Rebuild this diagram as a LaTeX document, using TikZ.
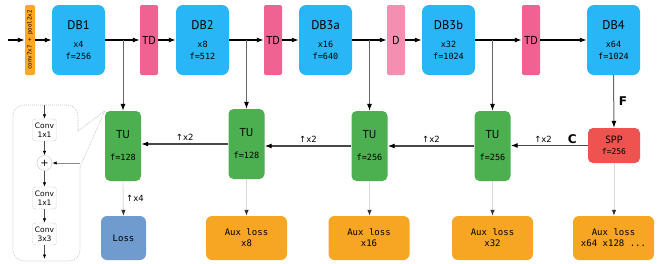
\documentclass[tikz,border=0pt]{standalone}
\usepackage{fontspec}
\setmainfont{PT Sans}
\newfontfamily\monof{DejaVu Sans Mono}
\newfontfamily\symf{DejaVu Sans}
\usetikzlibrary{arrows.meta}
\definecolor{dbblue}{HTML}{29B6F6}
\definecolor{tdpink}{HTML}{F06292}
\definecolor{dpink}{HTML}{F48FB1}
\definecolor{tugreen}{HTML}{4CAF50}
\definecolor{sppred}{HTML}{EF5350}
\definecolor{auxorange}{HTML}{F6A623}
\definecolor{lossblue}{HTML}{6F9BCF}
\definecolor{convorange}{HTML}{FFA726}
\definecolor{outline}{HTML}{B8C4D0}
\newcommand\mytitle{\rmfamily\fontsize{12.5}{14}\selectfont}
\newcommand\mytu{\rmfamily\fontsize{11.5}{13}\selectfont}
\newcommand\mydet{\monof\fontsize{8.5}{12}\selectfont}
\tikzset{
  db/.style={fill=dbblue, rounded corners=7pt, minimum width=53pt, minimum height=70pt, inner sep=0pt, align=center, font=\mydet},
  tdbox/.style={fill=tdpink, rounded corners=2pt, minimum width=18pt, minimum height=70pt, inner sep=0pt, font=\rmfamily\fontsize{11.5}{13}\selectfont},
  tu/.style={fill=tugreen, rounded corners=5pt, minimum width=36pt, minimum height=70pt, inner sep=0pt, align=center, font=\mydet},
  aux/.style={fill=auxorange, rounded corners=6pt, minimum width=81pt, minimum height=44pt, inner sep=0pt, align=center, font=\monof\fontsize{9}{11}\selectfont},
  convbox/.style={fill=white, draw=gray!35, rounded corners=3pt, minimum width=24pt, minimum height=22pt, inner sep=1pt, align=center, font=\symf\fontsize{7.5}{9}\selectfont},
  main/.style={draw=black, line width=1.1pt, -{Latex[length=7pt,width=5pt]}},
  back/.style={draw=black!72, line width=1.1pt, -{Latex[length=7pt,width=5pt,color=black]}},
  branch/.style={draw=black!60, line width=1pt, -{Latex[length=7pt,width=5pt,color=black]}},
  faint/.style={draw=black!15, line width=0.8pt, -{Latex[length=6pt,width=4.5pt,color=black!80]}},
  small/.style={draw=black!70, line width=0.8pt, -{Latex[length=4.5pt,width=3.5pt,color=black]}},
  lab/.style={font=\symf\fontsize{8.5}{10}\selectfont, inner sep=1.5pt},
  biglab/.style={font=\symf\bfseries\fontsize{12}{14}\selectfont, inner sep=1.5pt},
}
\begin{document}
\begin{tikzpicture}[x=1pt,y=-1pt]
\useasboundingbox (0,0) rectangle (665,263);

% top row
\coordinate (in) at (8,40);
\node[tdbox, fill=convorange, minimum width=10pt, rounded corners=1.5pt] (conv) at (30,40) {\rotatebox{90}{\monof\fontsize{5.8}{7}\selectfont conv7x7 + pool2x2}};
\node[db] (db1) at (78.5,40) {{\mytitle DB1}\\[6pt]x4\\f=256};
\node[tdbox] (td1) at (149,40) {TD};
\node[db] (db2) at (202.5,40) {{\mytitle DB2}\\[6pt]x8\\f=512};
\node[tdbox] (td2) at (273,40) {TD};
\node[db] (db3a) at (325.5,40) {{\mytitle DB3a}\\[6pt]x16\\f=640};
\node[tdbox, fill=dpink] (d) at (396,40) {D};
\node[db] (db3b) at (448.5,40) {{\mytitle DB3b}\\[6pt]x32\\f=1024};
\node[tdbox] (td3) at (531,40) {TD};
\node[db] (db4) at (613.5,40) {{\mytitle DB4}\\[6pt]x64\\f=1024};

% middle row
\node[tu] (tu1) at (123,146) {{\mytu TU}\\[10pt]f=128};
\node[tu] (tu2) at (246.5,144) {{\mytu TU}\\[10pt]f=128};
\node[tu] (tu3) at (369.5,146) {{\mytu TU}\\[10pt]f=256};
\node[tu] (tu4) at (492.5,146) {{\mytu TU}\\[10pt]f=256};
\node[fill=sppred, rounded corners=5pt, minimum width=52pt, minimum height=35pt, inner sep=0pt, align=center, font=\monof\fontsize{8}{11}\selectfont] (spp) at (614,145.5) {{\rmfamily\fontsize{10.5}{11}\selectfont SPP}\\f=256};

% bottom row
\node[aux, fill=lossblue, minimum width=45pt] (loss) at (123.5,238) {Loss};
\node[aux] (aux8) at (246.5,238) {Aux loss\\x8};
\node[aux] (aux16) at (369,238) {Aux loss\\x16};
\node[aux] (aux32) at (492.5,238) {Aux loss\\x32};
\node[aux] (aux64) at (613.5,238) {Aux loss\\x64 x128 ...};

% top connectors
\draw[main] (in) -- (conv.west);
\draw[main] (conv.east) -- (db1.west);
\draw[main] (db1.east) -- (td1.west);
\draw[main] (td1.east) -- (db2.west);
\draw[main] (db2.east) -- (td2.west);
\draw[main] (td2.east) -- (db3a.west);
\draw[main] (db3a.east) -- (d.west);
\draw[main] (d.east) -- (db3b.west);
\draw[main] (db3b.east) -- (td3.west);
\draw[main] (td3.east) -- (db4.west);

% branches
\draw[branch] (db1.east -| tu1.north) -- (tu1.north);
\draw[branch] (db2.east -| tu2.north) -- (tu2.north);
\draw[branch] (db3a.east -| tu3.north) -- (tu3.north);
\draw[branch] (db3b.east -| tu4.north) -- (tu4.north);
\draw[branch] (db4.south) -- (spp.north) node[midway, right, biglab, xshift=3pt] {F};

% upsampling path
\draw[back] (spp.west) -- (spp.west -| tu4.east)
  node[pos=0.58, above, lab, yshift=1pt] {↑x2}
  node[pos=0.2, above, biglab] {C};
\draw[back] (tu4.west) -- (tu4.west -| tu3.east) node[midway, above, lab, yshift=1pt] {↑x2};
\draw[back] (tu3.west) -- (tu3.west -| tu2.east) node[midway, above, lab, yshift=1pt] {↑x2};
\draw[back] (tu2.west) -- (tu2.west -| tu1.east) node[midway, above, lab, yshift=1pt] {↑x2};

% outputs
\draw[faint] (tu1.south) -- (loss.north) node[midway, right, lab, xshift=1pt] {↑x4};
\draw[faint] (tu2.south) -- (aux8.north);
\draw[faint] (tu3.south) -- (tu3.south |- aux16.north);
\draw[faint] (tu4.south) -- (tu4.south |- aux32.north);
\draw[faint] (spp.south) -- (spp.south |- aux64.north);

% inset: TU detail
\draw[draw=outline, line width=0.6pt, dash pattern=on 1pt off 1pt, rounded corners=11pt]
  (78,131) -- (78,105) -- (13,105) -- (13,261) -- (80,261) -- (80,167);
\draw[draw=outline, line width=0.6pt, dash pattern=on 1pt off 1pt] (78,131) -- (tu1.north west);
\draw[draw=outline, line width=0.6pt, dash pattern=on 1pt off 1pt] (80,167) -- (tu1.north west);
\coordinate (itop) at (44.5,105);
\coordinate (ibot) at (44.5,259);
\coordinate (iright) at (80,163);
\node[convbox] (c1) at (44.5,130) {Conv\\1x1};
\node[circle, fill=white, draw=gray!45, minimum size=15pt, inner sep=0pt, font=\symf\fontsize{10}{10}\selectfont] (plus) at (44.5,163) {+};
\node[convbox] (c2) at (44.5,198) {Conv\\1x1};
\node[convbox] (c3) at (44.5,234) {Conv\\3x3};
\draw[small] (itop) -- (c1.north);
\draw[small] (c1.south) -- (plus.north);
\draw[small, draw=black!45] (iright) -- (plus.east);
\draw[small] (plus.south) -- (c2.north);
\draw[small] (c2.south) -- (c3.north);
\draw[small] (c3.south) -- (ibot);
\end{tikzpicture}
\end{document}
